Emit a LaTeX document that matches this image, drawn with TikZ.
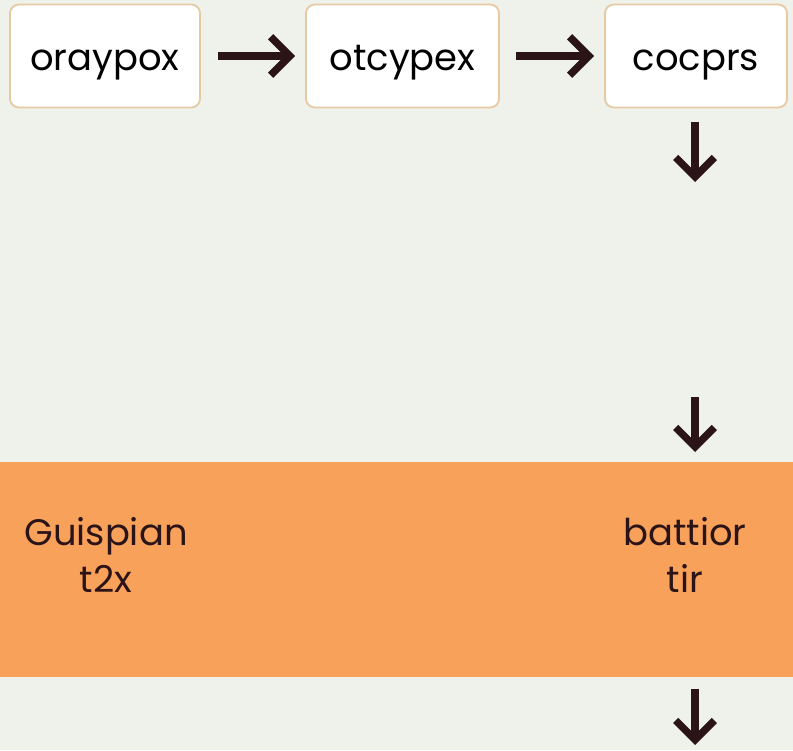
\documentclass[tikz,border=0pt]{standalone}
\usepackage{fontspec}
\setmainfont{Poppins}
\usetikzlibrary{arrows.meta}
\definecolor{bgpale}{HTML}{EEF2EB}
\definecolor{boxedge}{HTML}{E6C9A2}
\definecolor{bandorange}{HTML}{F8A15A}
\definecolor{inkdark}{HTML}{2B1417}
\tikzset{
  stagebox/.style={draw=boxedge, line width=1pt, fill=white, rounded corners=5pt,
    minimum width=190\unitpx, minimum height=103\unitpx, inner sep=0pt,
    text height=16pt, text depth=0pt,
    font=\fontsize{21}{24}\selectfont, text=black},
  flowarrow/.style={draw=inkdark, line width=4.2pt,
    -{Straight Barb[length=11pt, width=22pt, line width=4.2pt]}},
  bandtext/.style={font=\fontsize{21}{27}\selectfont, text=inkdark, align=center}
}
\newlength{\unitpx}
\setlength{\unitpx}{0.02cm}
\begin{document}
\begin{tikzpicture}[x=0.02cm, y=-0.02cm]
%%Canvas
\fill[bgpale] (0,0) rectangle (793,750);
\useasboundingbox (0,0) rectangle (793,750);
%%Top row
\node[stagebox] (oray) at (105,56) {oraypox};
\node[stagebox, minimum width=193\unitpx] (otcy) at (402.5,56) {otcypex};
\node[stagebox, minimum width=182\unitpx] (cocp) at (696,56) {cocprs};
\draw[flowarrow, shorten <=17\unitpx, shorten >=10\unitpx] (oray.east) -- (otcy.west);
\draw[flowarrow, shorten <=16\unitpx, shorten >=10\unitpx] (otcy.east) -- (cocp.west);
%%Down arrows
\coordinate (gapend) at (695,182);
\coordinate (gapstart) at (695,397);
\coordinate (tailend) at (695,745);
\draw[flowarrow, shorten <=14\unitpx] (cocp.south -| gapend) -- (gapend);
%%Band
\node[fill=bandorange, minimum width=793\unitpx, minimum height=215\unitpx,
  inner sep=0pt, anchor=north west] (band) at (0,462) {};
\draw[flowarrow, shorten >=10\unitpx] (gapstart) -- (band.north -| gapstart);
\draw[flowarrow, shorten <=11\unitpx] (band.south -| tailend) -- (tailend);
%%Label
\node[bandtext] (guis) at (106,555) {Guispian\\t2x};
\node[bandtext] (batt) at (685,555) {battior\\tir};
\end{tikzpicture}
\end{document}
